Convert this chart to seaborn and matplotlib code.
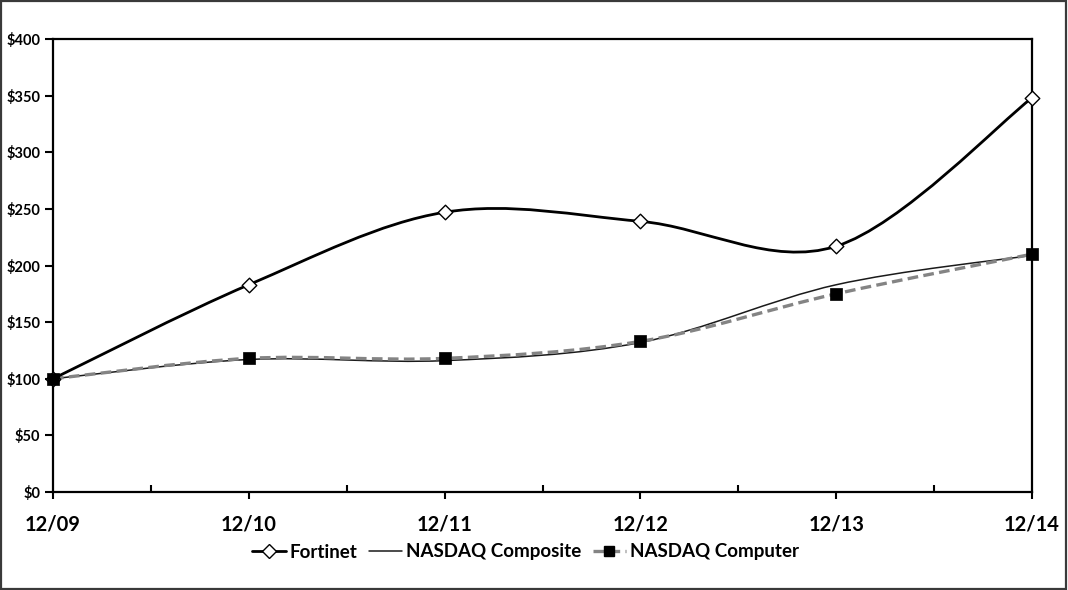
import numpy as np
import pandas as pd
import matplotlib
matplotlib.use("Agg")
import matplotlib.pyplot as plt
import seaborn as sns
from matplotlib.path import Path
from matplotlib.patches import PathPatch, Rectangle
from matplotlib.lines import Line2D

# data (indexed to $100 at 12/09)
periods = ["12/09", "12/10", "12/11", "12/12", "12/13", "12/14"]
fortinet = [100, 183, 247, 239, 217, 348]
nasdaq_composite = [100, 117, 116, 132, 183, 209]
nasdaq_computer = [100, 118, 118, 133, 175, 210]
y_ticks = [0, 50, 100, 150, 200, 250, 300, 350, 400]

sns.set_theme(style="white")
plt.rcParams['font.family'] = ['Lato', 'DejaVu Sans']
plt.rcParams['font.weight'] = 'bold'
plt.rcParams['text.color'] = 'black'
plt.rcParams['xtick.labelcolor'] = 'black'
plt.rcParams['ytick.labelcolor'] = 'black'


def smooth_path(xs, ys):
    # Excel style "smoothed line": cubic Bezier segments through the points
    pts = np.column_stack([xs, ys]).astype(float)
    ext = np.vstack([pts[0], pts, pts[-1]])
    verts = [pts[0]]
    codes = [Path.MOVETO]
    for i in range(len(pts) - 1):
        p0, p1, p2, p3 = ext[i], ext[i + 1], ext[i + 2], ext[i + 3]
        verts += [p1 + (p2 - p0) / 6, p2 - (p3 - p1) / 6, p2]
        codes += [Path.CURVE4] * 3
    return Path(verts, codes)


x = np.arange(len(periods))
df = pd.DataFrame({'x': x, 'Fortinet': fortinet,
                   'NASDAQ Composite': nasdaq_composite,
                   'NASDAQ Computer': nasdaq_computer})

fig = plt.figure(figsize=(10.68, 5.90), dpi=100)
ax = fig.add_axes([53 / 1068, 1 - 492 / 590, (1032 - 53) / 1068, (492 - 39) / 590])

# smoothed lines
ax.add_patch(PathPatch(smooth_path(x, nasdaq_composite), fill=False,
                       edgecolor='#1a1a1a', lw=1.1, zorder=2))
ax.add_patch(PathPatch(smooth_path(x, nasdaq_computer), fill=False,
                       edgecolor='#848484', lw=2.4, linestyle=(0, (3.2, 1.6)),
                       capstyle='butt', zorder=3))
ax.add_patch(PathPatch(smooth_path(x, fortinet), fill=False,
                       edgecolor='black', lw=2.0, zorder=4))

# markers
sns.scatterplot(data=df, x='x', y='Fortinet', marker='D', s=55,
                color='white', edgecolor='black', linewidth=1.0, zorder=5,
                clip_on=False, ax=ax)
sns.scatterplot(data=df, x='x', y='NASDAQ Computer', marker='s', s=70,
                color='black', edgecolor='black', linewidth=0.5, zorder=6,
                clip_on=False, ax=ax)

ax.set_xlim(0, len(periods) - 1)
ax.set_ylim(0, 400)
ax.set_xlabel('')
ax.set_ylabel('')
ax.set_xticks(x)
ax.set_xticklabels(periods, fontsize=14.5, fontweight='bold')
ax.set_xticks(x[:-1] + 0.5, minor=True)
ax.set_yticks(y_ticks)
ax.set_yticklabels([f'${v}' for v in y_ticks], fontsize=10.5, fontweight='bold')

ax.tick_params(axis='x', which='major', direction='out', length=5, width=1.5,
               pad=11, bottom=True, color='black')
ax.tick_params(axis='x', which='minor', direction='in', length=5, width=1.5,
               bottom=True, color='black')
ax.tick_params(axis='y', which='major', direction='out', length=6, width=1.5,
               pad=3, left=True, color='black')
for sp in ax.spines.values():
    sp.set_color('black')
    sp.set_linewidth(1.6)
ax.grid(False)

handles = [
    Line2D([], [], color='black', lw=2.0, marker='D', markersize=7,
           markerfacecolor='white', markeredgecolor='black'),
    Line2D([], [], color='#1a1a1a', lw=1.1),
    Line2D([], [], color='#848484', lw=2.4, linestyle=(0, (3.2, 1.6)),
           marker='s', markersize=7, markerfacecolor='black', markeredgecolor='black'),
]
fig.legend(handles, ['Fortinet', 'NASDAQ Composite', 'NASDAQ Computer'],
           loc='center', bbox_to_anchor=(0.492, 1 - 552 / 590), ncol=3,
           frameon=False, prop={'size': 13.5, 'weight': 'bold'},
           handlelength=1.8, handletextpad=0.2, columnspacing=0.6)

# outer chart border
fig.patches.append(Rectangle((0.001, 0.002), 0.997, 0.996, transform=fig.transFigure,
                             fill=False, edgecolor='#3a3a3a', lw=1.6))

fig.savefig('out.png', dpi=100)
